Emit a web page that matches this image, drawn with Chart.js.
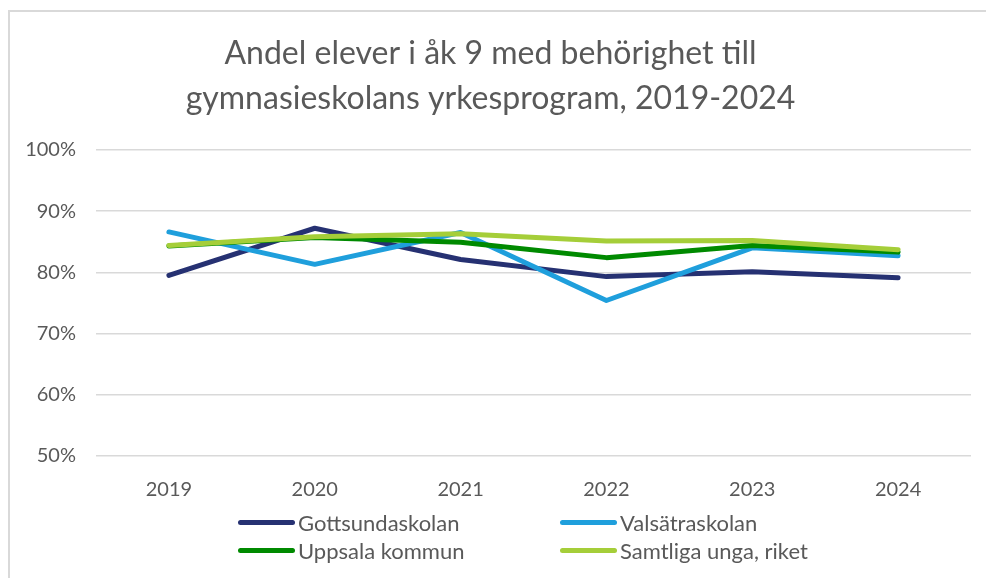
<!DOCTYPE html>
<html>
<head>
  <title>Andel elever i åk 9 med behörighet</title>
  <script src="https://cdn.jsdelivr.net/npm/chart.js"></script>
  <style>
    body { margin: 0; background: #fff; font-family: Lato, sans-serif; }
    #frame { position: absolute; left: 8px; top: 10px; width: 978px; height: 568px; border-left: 2px solid #d9d9d9; border-top: 2px solid #d9d9d9; box-sizing: border-box; }
    #chart-box { position: absolute; left: 0; top: 0; width: 976px; height: 566px; }
    #legend { position: absolute; left: 0; top: 0; width: 100%; height: 100%; pointer-events: none; }
    .item { position: absolute; display: flex; align-items: center; color: #595959; font-size: 22px; white-space: nowrap; }
    .swatch { width: 57px; height: 5px; border-radius: 3px; margin-right: 3px; }
  </style>
</head>
<body>
  <div id="frame">
    <div id="chart-box"><canvas id="chart"></canvas></div>
    <div id="legend"></div>
  </div>
  <script>
    const years = ['2019', '2020', '2021', '2022', '2023', '2024'];
    const gottsund = [79.5, 87.2, 82.1, 79.3, 80.1, 79.1];
    const valsatra = [86.6, 81.3, 86.5, 75.4, 84.0, 82.7];
    const uppsala = [84.3, 85.7, 84.9, 82.4, 84.4, 83.3];
    const riket = [84.4, 85.8, 86.3, 85.1, 85.2, 83.7];
    const seriesNames = ['Gottsundaskolan', 'Valsätraskolan', 'Uppsala kommun', 'Samtliga unga, riket'];
    const colors = ['#263172', '#1f9fdc', '#008a00', '#a5ce39'];
    const titleLines = ['Andel elever i åk 9 med behörighet till', 'gymnasieskolans yrkesprogram, 2019-2024'];

    const allSeries = [gottsund, valsatra, uppsala, riket];
    const datasets = allSeries.map((d, i) => ({
      label: seriesNames[i],
      data: d,
      borderColor: colors[i],
      backgroundColor: colors[i],
      borderWidth: 5,
      borderCapStyle: 'round',
      borderJoinStyle: 'round',
      pointRadius: 0,
      tension: 0,
      order: 3 - i
    }));

    const ctx = document.getElementById('chart').getContext('2d');
    const chart = new Chart(ctx, {
      type: 'line',
      data: { labels: years, datasets: datasets },
      options: {
        responsive: true,
        maintainAspectRatio: false,
        animation: false,
        layout: { padding: { right: 15, bottom: 62 } },
        plugins: {
          legend: { display: false },
          tooltip: { enabled: false },
          title: {
            display: true,
            text: titleLines,
            color: '#595959',
            font: { family: 'Lato', size: 32, weight: 'normal', lineHeight: 1.42 },
            padding: { top: 19, bottom: 28 }
          }
        },
        scales: {
          x: {
            offset: true,
            grid: { display: false },
            border: { display: false },
            ticks: { color: '#595959', font: { family: 'Lato', size: 20 }, padding: 14 },
            afterFit: s => { s.height = 60; }
          },
          y: {
            min: 50,
            max: 100,
            grid: { color: '#d9d9d9', lineWidth: 1.5, drawTicks: false },
            border: { display: false },
            ticks: {
              stepSize: 10,
              color: '#595959',
              font: { family: 'Lato', size: 20 },
              padding: 20,
              callback: v => v + '%'
            },
            afterFit: s => { s.width = 86; }
          }
        }
      }
    });

    // legend, two columns like the original
    const legendPos = [[228, 497], [550, 497], [228, 525], [550, 525]];
    const legendDiv = document.getElementById('legend');
    seriesNames.forEach((name, i) => {
      const it = document.createElement('div');
      it.className = 'item';
      it.style.left = legendPos[i][0] + 'px';
      it.style.top = legendPos[i][1] + 'px';
      it.innerHTML = '<span class="swatch" style="background:' + colors[i] + '"></span>' + name;
      legendDiv.appendChild(it);
    });
  </script>
</body>
</html>
